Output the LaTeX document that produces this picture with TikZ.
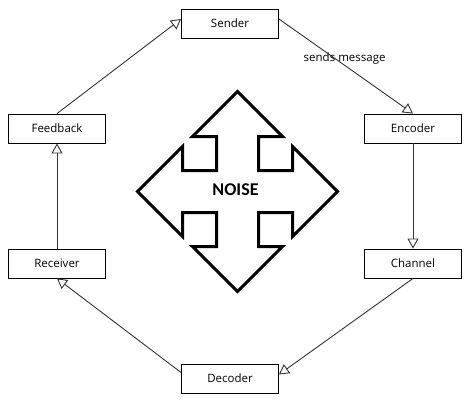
\documentclass[tikz,border=0pt]{standalone}
\usepackage{fontspec}
\setmainfont{Open Sans}
\newfontfamily\noisefont{Carlito}
\usetikzlibrary{arrows.meta}

\begin{document}
\begin{tikzpicture}[x=1pt,y=-1pt,
        box/.style={draw,line width=0.9pt,minimum width=97pt,minimum height=29pt,inner sep=0pt,font=\fontsize{11.5}{13}\selectfont},
        link/.style={draw=black!80,line width=0.9pt,-{Triangle[open,length=10pt,width=11pt]}}]
        \useasboundingbox (0,0) rectangle (474,404);

        % boxes
        \node[box] (sender) at (230,23.5) {Sender};
        \node[box] (encoder) at (413,128.5) {Encoder};
        \node[box] (channel) at (413,263.5) {Channel};
        \node[box] (decoder) at (230,378.5) {Decoder};
        \node[box] (receiver) at (57,263.5) {Receiver};
        \node[box] (feedback) at (57,128.5) {Feedback};

        % links
        \draw[link] ([yshift=4.5pt]sender.east) -- (encoder.north)
            node[pos=0.49,yshift=7pt,font=\fontsize{11.5}{13}\selectfont] {sends message};
        \draw[link] (encoder.south) -- (channel.north);
        \draw[link] (channel.south) -- ([yshift=4pt]decoder.east);
        \draw[link] ([yshift=6pt]decoder.west) -- (receiver.south);
        \draw[link] (receiver.north) -- (feedback.south);
        \draw[link] (feedback.north) -- ([yshift=4.5pt]sender.west);

        % noise
        \begin{scope}[shift={(237.5,191.5)}]
            \draw[line width=3pt,miter limit=4] (0,-100) -- (-45,-55) -- (-21,-55) -- (-21,-21) -- (-55,-21) -- (-55,-45)
                -- (-100,0) -- (-55,45) -- (-55,21) -- (-21,21) -- (-21,55) -- (-45,55)
                -- (0,100) -- (45,55) -- (21,55) -- (21,21) -- (55,21) -- (55,45)
                -- (100,0) -- (55,-45) -- (55,-21) -- (21,-21) -- (21,-55) -- (45,-55) -- cycle;
            \node[font=\noisefont\bfseries\fontsize{18}{20}\selectfont] (noise) at (-2,-1.5) {NOISE};
        \end{scope}
\end{tikzpicture}
\end{document}
